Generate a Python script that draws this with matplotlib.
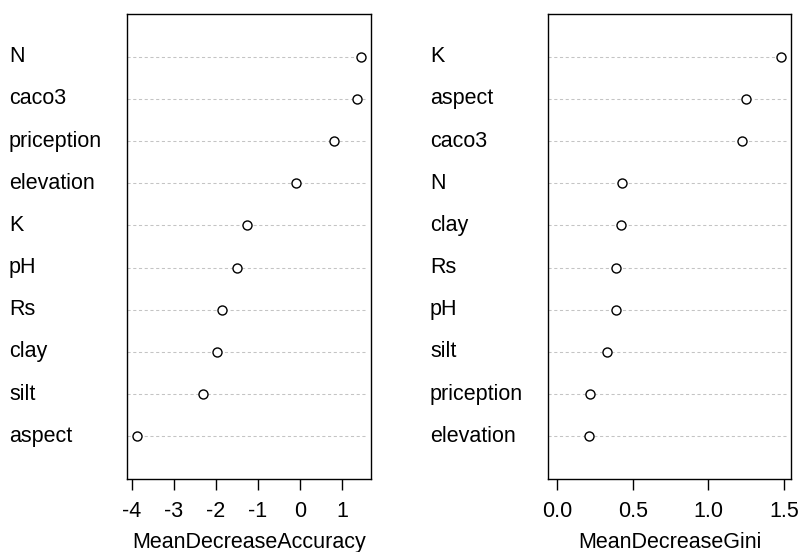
import matplotlib.pyplot as plt
import matplotlib.transforms as mtransforms
import numpy as np

plt.rcParams['font.family'] = ['Liberation Sans', 'DejaVu Sans']

# variables listed top to bottom, as in the picture
acc_vars = ['N', 'caco3', 'priception', 'elevation', 'K', 'pH', 'Rs', 'clay', 'silt', 'aspect']
acc_vals = [1.45, 1.35, 0.82, -0.09, -1.25, -1.50, -1.86, -1.97, -2.30, -3.88]

gini_vars = ['K', 'aspect', 'caco3', 'N', 'clay', 'Rs', 'pH', 'silt', 'priception', 'elevation']
gini_vals = [1.48, 1.25, 1.22, 0.43, 0.42, 0.39, 0.39, 0.33, 0.22, 0.21]

acc_ticks = [-4, -3, -2, -1, 0, 1]
gini_ticks = [0.0, 0.5, 1.0, 1.5]

FS = 15.5

fig = plt.figure(figsize=(8.01, 5.52), dpi=100)
ax1 = fig.add_axes([127/801, 1-479/552, 244/801, 465/552])
ax2 = fig.add_axes([548/801, 1-479/552, 243/801, 465/552])


def dotchart(ax, names, vals, ticks, tick_fmt, xlim, xlabel, label_x):
    n = len(names)
    ypos = np.arange(n, 0, -1)
    for y in ypos:
        ax.axhline(y, xmax=0.985, color='#c4c4c4', lw=0.75, linestyle=(0, (3, 2.5)), zorder=1)
    ax.plot(vals, ypos, 'o', mfc='white', mec='black', mew=1.0, ms=6.5, zorder=3, ls='none')
    ax.set_ylim(-0.01, n + 1.01)
    ax.set_xlim(*xlim)
    ax.set_yticks([])
    ax.set_xticks(ticks)
    ax.set_xticklabels([tick_fmt(t) for t in ticks])
    ax.tick_params(axis='x', length=8, width=1, labelsize=FS, pad=8, direction='out')
    ax.set_xlabel(xlabel, fontsize=FS, labelpad=7)
    for s in ax.spines.values():
        s.set_linewidth(1.0)
    trans = mtransforms.blended_transform_factory(fig.transFigure, ax.transData)
    for name, y in zip(names, ypos):
        ax.text(label_x / 801, y, name, transform=trans, ha='left', va='center', fontsize=FS)


dotchart(ax1, acc_vars, acc_vals, acc_ticks, lambda t: str(t), (-4.11, 1.69),
         'MeanDecreaseAccuracy', 9)
dotchart(ax2, gini_vars, gini_vals, gini_ticks, lambda t: '%.1f' % t, (-0.059, 1.545),
         'MeanDecreaseGini', 430)

fig.savefig('out.png', dpi=100)
